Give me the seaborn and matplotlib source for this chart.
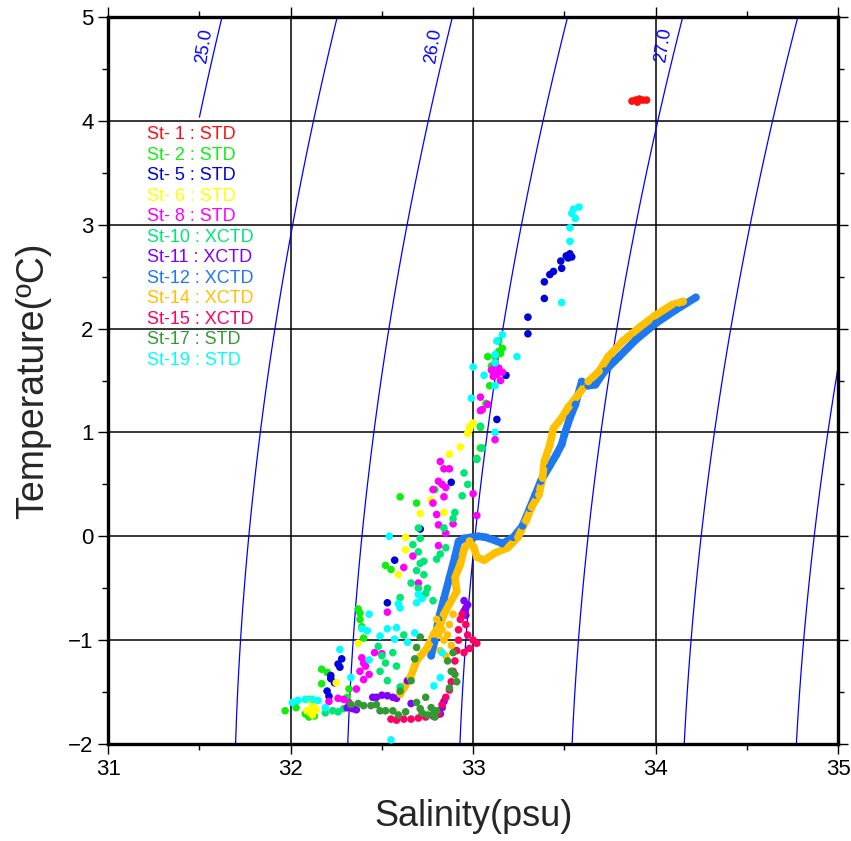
import numpy as np
import pandas as pd
import matplotlib
matplotlib.use("Agg")
import matplotlib.pyplot as plt
import seaborn as sns

# ---- station data (salinity psu, temperature degC) ----
st1_S = [33.87, 33.89, 33.91, 33.93, 33.95, 33.90]
st1_T = [4.19, 4.20, 4.21, 4.20, 4.20, 4.18]

st2_S = [33.12, 33.14, 33.16, 33.15, 33.13, 33.14, 33.08, 33.10, 33.09, 33.07, 33.04, 33.04,
         33.02, 32.60, 32.69, 32.79, 32.52, 32.55, 32.37, 32.38, 32.40, 32.17, 32.20, 32.17,
         32.32, 31.97, 32.03, 32.08, 32.10, 32.13, 32.11, 32.10, 32.38, 32.39, 32.31]
st2_T = [1.73, 1.78, 1.81, 1.76, 1.75, 1.88, 1.73, 1.64, 1.45, 1.28, 1.05, 0.85,
         0.75, 0.38, 0.32, 0.45, -0.28, -0.32, -0.70, -0.80, -0.98, -1.28, -1.31, -1.42,
         -1.47, -1.68, -1.65, -1.71, -1.74, -1.73, -1.69, -1.57, -0.74, -0.87, -1.55]

st5_S = [33.51, 33.53, 33.54, 33.52, 33.48, 33.485, 33.44, 33.42, 33.39, 33.39, 33.30, 33.30,
         33.18, 33.13, 32.88, 32.71, 32.57, 32.53, 32.28, 32.26, 32.27, 32.22, 32.22, 32.24,
         32.20, 32.21]
st5_T = [2.70, 2.72, 2.69, 2.68, 2.65, 2.58, 2.55, 2.52, 2.45, 2.29, 2.11, 1.95,
         1.55, 1.125, 0.52, 0.07, -0.23, -0.64, -1.18, -1.23, -1.26, -1.34, -1.37, -1.41,
         -1.49, -1.54]

st6_S = [32.97, 32.98, 32.99, 33.00, 32.98, 32.93, 32.87, 32.86, 32.77, 32.71, 32.84, 32.63,
         32.63, 32.59, 32.37, 32.25, 32.10, 32.12, 32.14, 32.11, 32.09, 32.13, 32.12]
st6_T = [0.99, 1.03, 1.07, 1.09, 1.05, 0.86, 0.79, 0.65, 0.35, 0.22, 0.23, -0.01,
         -0.13, -0.37, -1.03, -1.41, -1.58, -1.63, -1.67, -1.70, -1.68, -1.60, -1.72]

st8_S = [33.10, 33.12, 33.14, 33.13, 33.11, 33.16, 33.15, 33.12, 33.04, 33.08, 33.04, 33.05,
         33.12, 32.82, 32.84, 32.87, 32.81, 32.85, 32.83, 32.78, 32.78, 32.84, 32.80, 32.89,
         32.81, 32.85, 33.00, 33.02, 32.81, 32.67, 32.62, 32.39, 32.41, 32.43, 32.40, 32.38,
         32.46, 32.36, 32.29, 32.32, 32.26, 32.21, 32.53, 32.70, 32.50, 32.40]
st8_T = [1.60, 1.65, 1.62, 1.56, 1.54, 1.58, 1.50, 1.67, 1.34, 1.27, 1.21, 1.22,
         0.93, 0.72, 0.65, 0.65, 0.53, 0.47, 0.50, 0.45, 0.32, 0.38, 0.21, 0.12,
         0.11, 0.03, 0.41, 0.20, -0.09, -0.19, -0.30, -1.17, -1.25, -1.33, -1.38, -1.30,
         -1.12, -1.47, -1.57, -1.60, -1.56, -1.59, -0.73, -0.45, -1.13, -1.22]

st10_S = [32.48, 32.50, 32.52, 32.49, 32.53, 32.56, 32.58, 32.66, 32.70, 32.74, 32.78, 32.72,
          32.60, 32.67, 32.70, 32.73, 32.70, 32.71, 32.85, 32.82, 32.80, 32.71, 32.69, 32.73,
          32.75, 32.90, 32.89, 32.84, 32.94, 32.97, 32.95, 33.02, 33.05, 33.04, 32.19, 32.23,
          32.26, 32.29, 32.62, 32.60]
st10_T = [-1.06, -1.15, -1.22, -1.30, -1.39, -1.12, -1.25, -0.45, -0.50, -0.55, -0.62, -0.58,
          -0.59, -0.08, -0.15, -0.24, 0.08, -0.02, -0.11, -0.17, -0.22, -0.26, -0.33, -0.37,
          -0.50, 0.23, 0.17, 0.08, 0.39, 0.50, 0.61, 0.74, 0.85, 1.06, -1.70, -1.68,
          -1.69, -1.66, -0.95, -1.45]

st11_S = [32.31, 32.34, 32.36, 32.45, 32.47, 32.50, 32.53, 32.56, 32.58, 32.64, 32.66, 32.80,
          32.82, 32.83, 32.84, 32.95, 32.96, 32.96, 32.97, 32.95]
st11_T = [-1.65, -1.66, -1.67, -1.55, -1.55, -1.53, -1.535, -1.55, -1.56, -1.39, -1.61, -1.72,
          -1.71, -1.65, -1.59, -0.62, -0.69, -0.76, -0.66, -0.72]

st12_S = [32.77, 32.79, 32.81, 32.84, 32.87, 32.90, 32.92, 32.95, 32.99, 33.03, 33.07, 33.12,
          33.16, 33.22, 33.27, 33.31, 33.34, 33.37, 33.42, 33.457, 33.485, 33.50, 33.53, 33.56,
          33.595, 33.63, 33.67, 33.72, 33.80, 33.89, 34.00, 34.11, 34.22]
st12_T = [-1.15, -1.00, -0.80, -0.60, -0.40, -0.20, -0.05, -0.02, -0.01, 0.00, -0.01, -0.04,
          -0.07, -0.01, 0.10, 0.27, 0.40, 0.53, 0.68, 0.79, 0.885, 0.98, 1.14, 1.27,
          1.49, 1.45, 1.46, 1.59, 1.73, 1.89, 2.05, 2.18, 2.30]

st14_S = [32.60, 32.656, 32.69, 32.75, 32.785, 32.82, 32.84, 32.87, 32.91, 32.90, 32.93, 32.95,
          32.98, 33.005, 33.02, 33.06, 33.12, 33.19, 33.245, 33.29, 33.32, 33.36, 33.38, 33.39,
          33.42, 33.44, 33.485, 33.52, 33.57, 33.63, 33.69, 33.74, 33.82, 33.91, 34.00, 34.09,
          34.15]
st14_T = [-1.52, -1.36, -1.20, -1.07, -0.94, -0.85, -0.75, -0.65, -0.53, -0.40, -0.27, -0.125,
          -0.045, -0.11, -0.20, -0.23, -0.16, -0.11, -0.01, 0.15, 0.28, 0.40, 0.56, 0.72,
          0.88, 1.04, 1.14, 1.24, 1.35, 1.49, 1.59, 1.73, 1.88, 2.01, 2.13, 2.23,
          2.26]
st14_blob_S = [32.80, 32.83, 32.86, 32.88, 32.82, 32.85, 32.87, 32.84, 32.81, 32.89]
st14_blob_T = [-0.80, -0.90, -0.95, -1.05, -1.10, -1.15, -0.85, -1.00, -0.95, -0.75]

st15_S = [32.55, 32.58, 32.62, 32.66, 32.70, 32.74, 32.78, 32.81, 32.83, 32.85, 32.87, 32.88,
          32.89, 32.90, 32.91, 32.92, 32.92, 32.93, 32.94, 32.97, 33.00, 33.02, 32.98, 32.95,
          32.96]
st15_T = [-1.76, -1.77, -1.76, -1.76, -1.75, -1.74, -1.73, -1.71, -1.62, -1.55, -1.48, -1.40,
          -1.30, -1.20, -1.10, -1.00, -0.90, -0.80, -0.75, -0.95, -1.00, -1.03, -1.08, -1.12,
          -0.85]

st17_S = [32.69, 32.71, 32.68, 32.66, 32.60, 32.74, 32.69, 32.77, 32.71, 32.785, 32.49, 32.52,
          32.56, 32.37, 32.40, 32.44, 32.47, 32.86, 32.88, 32.91, 32.87, 32.89, 32.90, 32.33,
          32.63, 32.59, 32.75, 32.79, 32.72, 32.80]
st17_T = [-1.07, -0.97, -1.18, -1.39, -1.49, -1.55, -1.60, -1.65, -1.66, -1.70, -1.68, -1.68,
          -1.68, -1.61, -1.63, -1.63, -1.62, -1.20, -1.30, -1.40, -1.46, -1.12, -1.33, -1.62,
          -1.69, -1.72, -1.72, -1.74, -1.70, -1.68]

st19_S = [33.55, 33.58, 33.54, 33.56, 33.53, 33.53, 33.485, 33.16, 33.13, 33.12, 33.24, 33.12,
          33.00, 33.06, 33.12, 32.99, 33.12, 32.54, 32.43, 32.49, 32.53, 32.58, 32.57, 32.60,
          32.59, 32.68, 32.64, 32.70, 32.69, 32.72, 32.42, 32.39, 32.27, 32.33, 32.43, 32.785,
          32.82, 32.83, 32.55, 32.01, 32.04, 32.08, 32.12, 32.15, 32.19]
st19_T = [3.15, 3.17, 3.11, 3.06, 2.97, 2.84, 2.25, 1.94, 1.88, 1.75, 1.73, 1.67,
          1.63, 1.55, 1.45, 1.33, 1.00, 0.00, -0.75, -0.96, -0.89, -0.88, -0.99, -0.69,
          -0.65, -0.93, -1.02, -0.56, -0.64, -0.60, -0.91, -0.89, -1.09, -1.36, -1.19, -1.44,
          -1.36, -1.12, -1.96, -1.60, -1.58, -1.57, -1.57, -1.58, -1.65]

stations = ["St-1", "St-2", "St-5", "St-6", "St-8", "St-10", "St-11", "St-12",
            "St-14", "St-15", "St-17", "St-19"]
legend_labels = ["St- 1 : STD", "St- 2 : STD", "St- 5 : STD", "St- 6 : STD", "St- 8 : STD",
                 "St-10 : XCTD", "St-11 : XCTD", "St-12 : XCTD", "St-14 : XCTD",
                 "St-15 : XCTD", "St-17 : STD", "St-19 : STD"]
colors = ["#FF1010", "#10EE10", "#0000DD", "#FFFF00", "#FF00FF", "#00E676", "#8000FF",
          "#1E78F0", "#FFC000", "#FF0066", "#339933", "#00FFFF"]
palette = dict(zip(stations, colors))

sigma_levels = [25.0, 25.5, 26.0, 26.5, 27.0, 27.5, 28.0]
sigma_labels = ["25.0", "26.0", "27.0"]
sigma_label_S = [31.53, 32.78, 34.04]
sigma_label_T = [4.72, 4.72, 4.73]

pts = {
    "St-1": (st1_S, st1_T), "St-2": (st2_S, st2_T), "St-5": (st5_S, st5_T),
    "St-6": (st6_S, st6_T), "St-8": (st8_S, st8_T), "St-10": (st10_S, st10_T),
    "St-11": (st11_S, st11_T), "St-12": (st12_S, st12_T),
    "St-14": (st14_S + st14_blob_S, st14_T + st14_blob_T),
    "St-15": (st15_S, st15_T), "St-17": (st17_S, st17_T), "St-19": (st19_S, st19_T),
}
df = pd.concat([pd.DataFrame({"S": s, "T": t, "station": k}) for k, (s, t) in pts.items()],
               ignore_index=True)

sns.set_style("white")
plt.rcParams["font.family"] = ["Liberation Sans Narrow", "Liberation Sans", "DejaVu Sans"]

fig = plt.figure(figsize=(8.51, 8.41), dpi=100)
ax = fig.add_axes([0.127, 0.1153, 0.858, 0.8645])

# sigma-t (UNESCO EOS-80, surface pressure)
Sg, Tg = np.meshgrid(np.linspace(31.5, 35, 200), np.linspace(-2, 5, 200))
rho_w = (999.842594 + 6.793952e-2 * Tg - 9.095290e-3 * Tg**2 + 1.001685e-4 * Tg**3
         - 1.120083e-6 * Tg**4 + 6.536332e-9 * Tg**5)
A = 8.24493e-1 - 4.0899e-3 * Tg + 7.6438e-5 * Tg**2 - 8.2467e-7 * Tg**3 + 5.3875e-9 * Tg**4
B = -5.72466e-3 + 1.0227e-4 * Tg - 1.6546e-6 * Tg**2
sig = rho_w + A * Sg + B * Sg**1.5 + 4.8314e-4 * Sg**2 - 1000
ax.contour(Sg, Tg, sig, levels=sigma_levels, colors="#0000FF", linewidths=0.9, zorder=2)
for lab, s, t in zip(sigma_labels, sigma_label_S, sigma_label_T):
    ax.text(s, t, lab, color="#0000FF", fontsize=13, rotation=81,
            ha="center", va="center", zorder=3)

# grid
ax.set_xlim(31, 35)
ax.set_ylim(-2, 5)
ax.set_xticks([31, 32, 33, 34, 35])
ax.set_yticks([-2, -1, 0, 1, 2, 3, 4, 5])
ax.set_xticks(np.arange(31.5, 35, 1.0), minor=True)
ax.set_yticks(np.arange(-1.5, 5, 1.0), minor=True)
ax.grid(True, which="major", color="black", linewidth=1.1, zorder=1)
ax.set_axisbelow(True)

# data
for st in ["St-12", "St-14"]:
    s, t = pts[st]
    n = len(st12_S) if st == "St-12" else len(st14_S)
    sns.lineplot(x=s[:n], y=t[:n], sort=False, estimator=None, color=palette[st],
                 linewidth=5.5, ax=ax, zorder=4)
sns.scatterplot(data=df, x="S", y="T", hue="station", palette=palette, s=30,
                linewidth=0, legend=False, ax=ax, zorder=5)

# station list
for i, (lab, c) in enumerate(zip(legend_labels, colors)):
    ax.text(0.053, 0.838 - i * 0.0282, lab, color=c, fontsize=13,
            transform=ax.transAxes, ha="left", va="center", zorder=6)

for sp in ax.spines.values():
    sp.set_linewidth(2.4)
    sp.set_color("black")
ax.tick_params(which="both", direction="out", top=True, right=True, bottom=True, left=True,
               colors="black", labelsize=16)
ax.tick_params(which="major", length=7, width=1.0)
ax.tick_params(which="minor", length=4, width=1.0)
ax.set_xlabel("Salinity(psu)", fontsize=26, labelpad=14)
ax.set_ylabel("Temperature(ºC)", fontsize=27, labelpad=12)

fig.savefig("out.png", dpi=100)
